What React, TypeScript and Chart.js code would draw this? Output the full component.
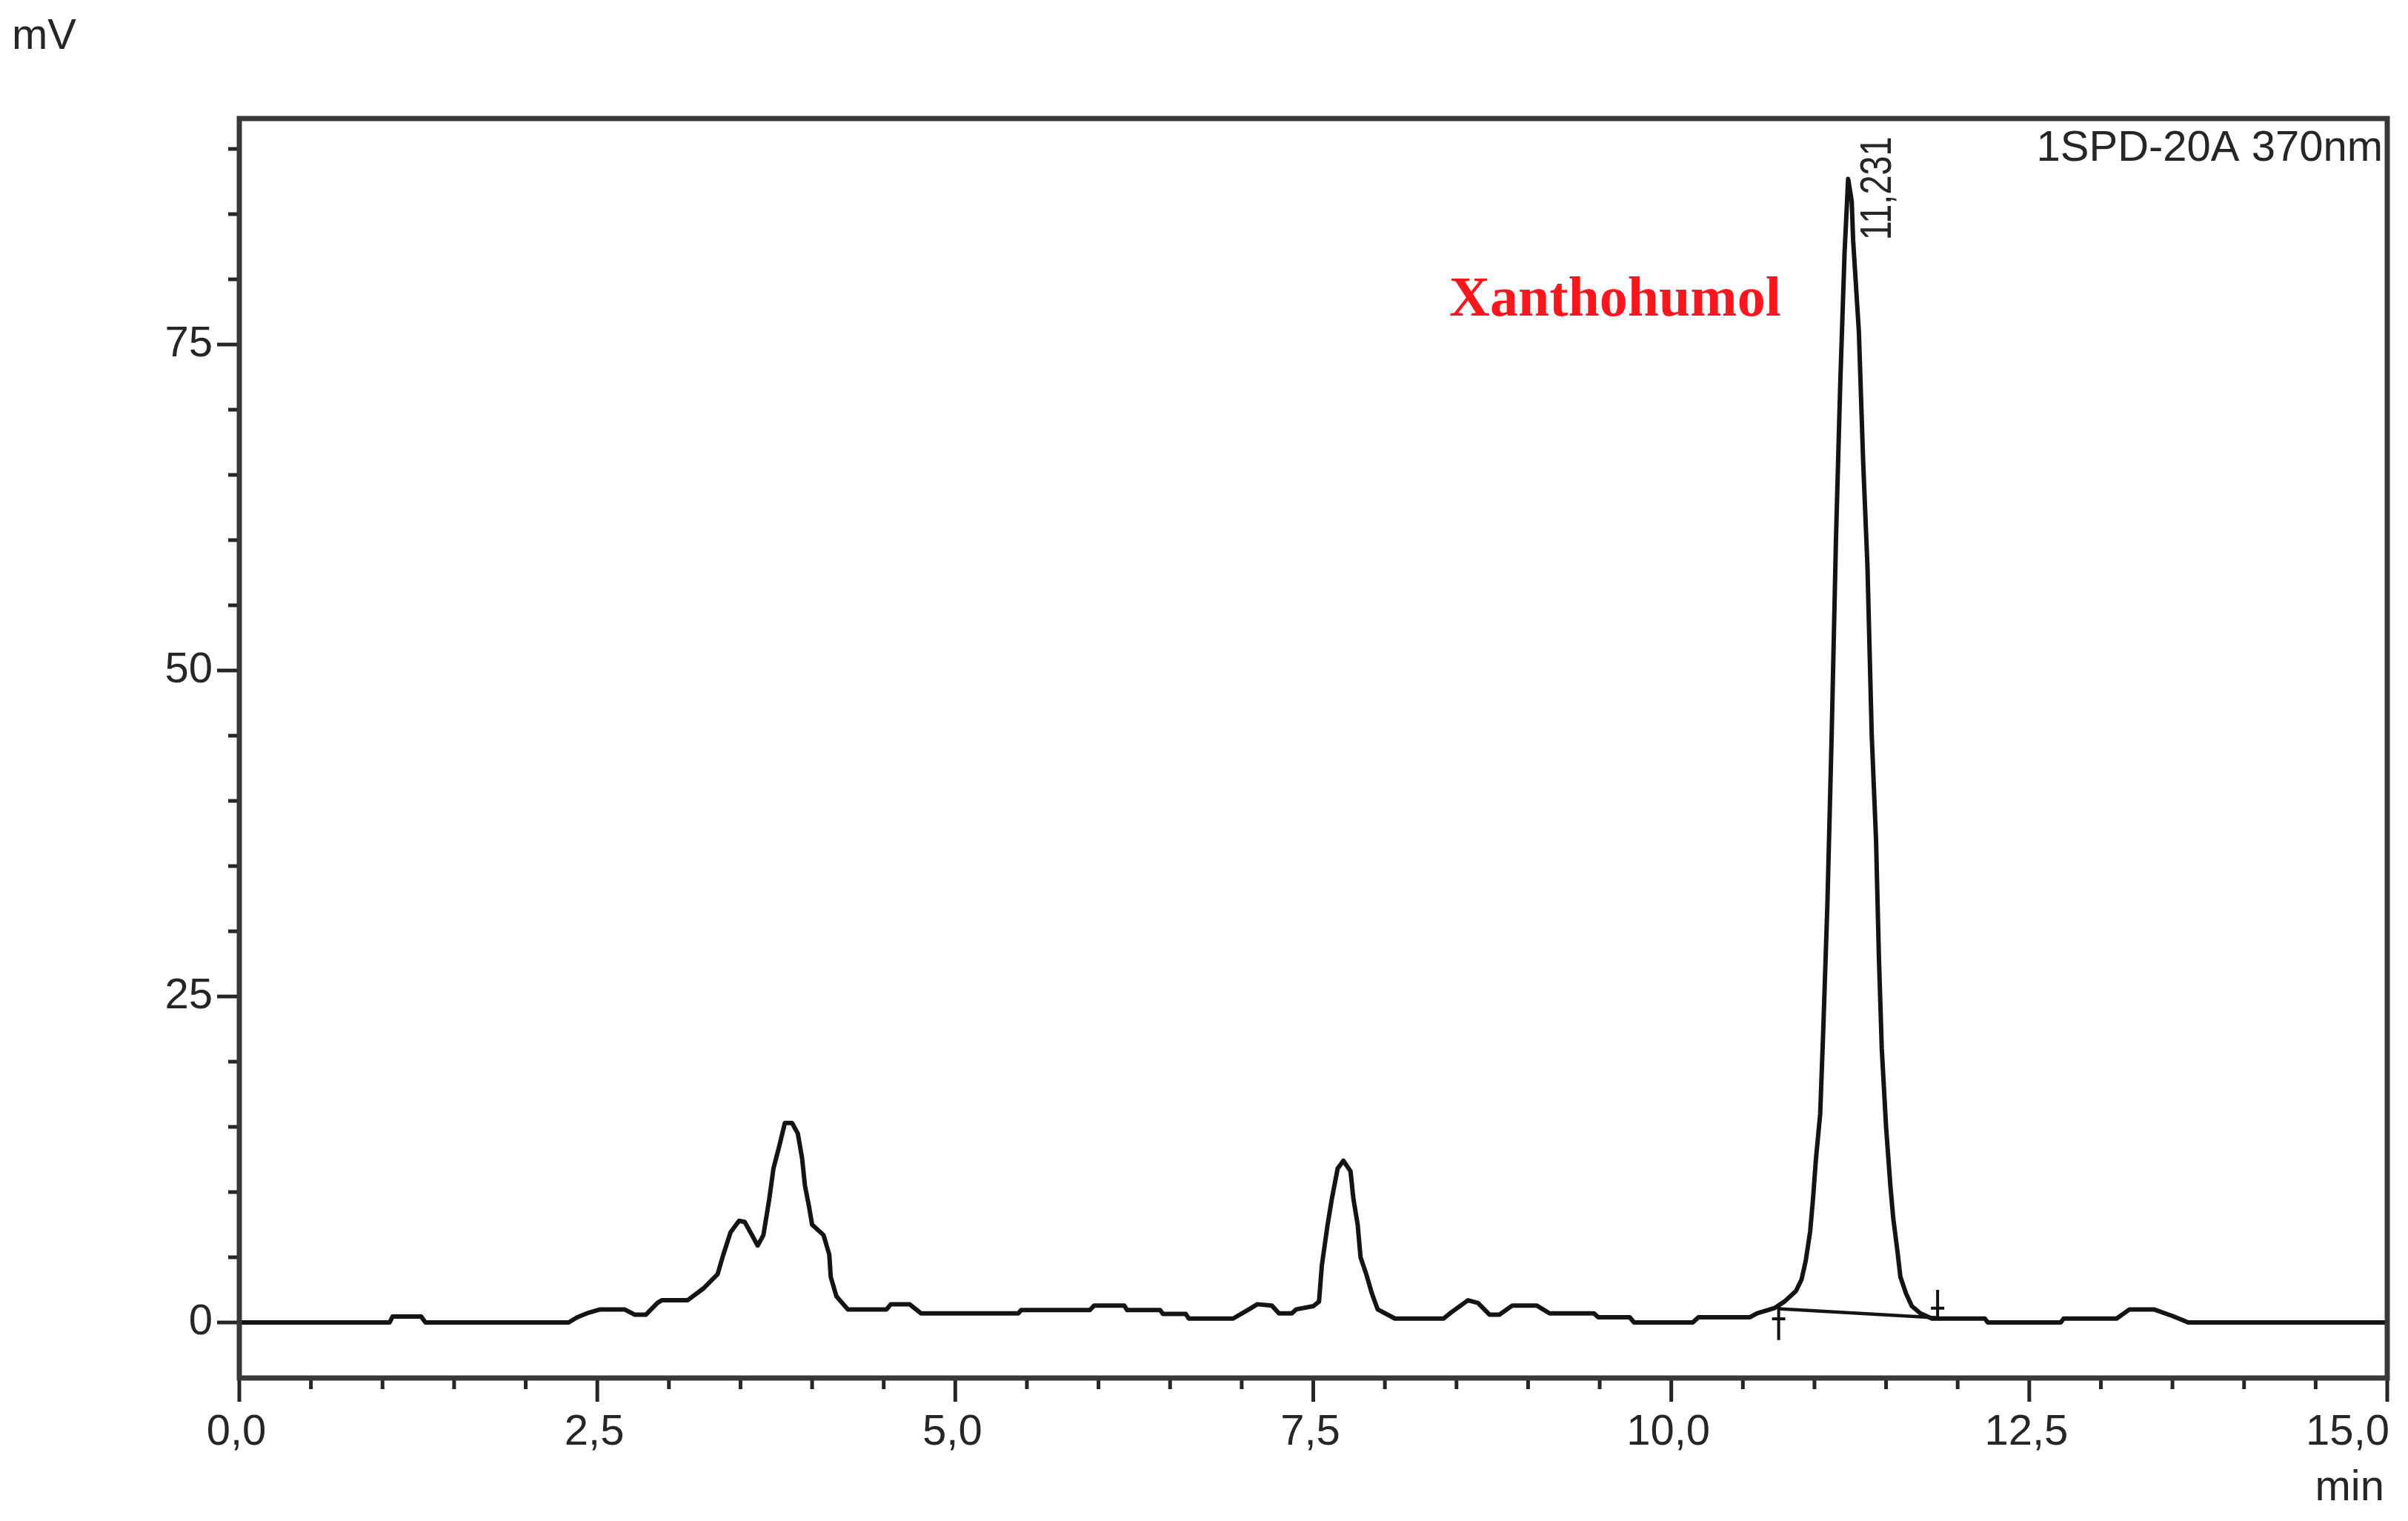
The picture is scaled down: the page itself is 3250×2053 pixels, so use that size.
import React, { useEffect, useRef } from 'react';
import { Chart, registerables } from 'chart.js';

Chart.register(...registerables);

// ---- Data ----
const retentionTimes = [
  0.0, 1.05, 1.07, 1.27, 1.3, 2.3, 2.36, 2.44, 2.52, 2.69, 2.76, 2.84, 2.92, 2.95, 3.13,
  3.24, 3.34, 3.38, 3.43, 3.49, 3.53, 3.58, 3.62, 3.66, 3.7, 3.73, 3.77, 3.81, 3.86, 3.9,
  3.93, 3.95, 3.98, 4.0, 4.08, 4.12, 4.13, 4.17, 4.25, 4.52, 4.55, 4.68, 4.76, 5.44, 5.46,
  5.94, 5.97, 6.18, 6.2, 6.43, 6.45, 6.61, 6.63, 6.94, 7.05, 7.11, 7.21, 7.26, 7.35, 7.38,
  7.5, 7.54, 7.56, 7.6, 7.63, 7.67, 7.71, 7.76, 7.78, 7.81, 7.83, 7.87, 7.91, 7.95, 8.07,
  8.41, 8.46, 8.58, 8.65, 8.73, 8.8, 8.89, 9.06, 9.15, 9.46, 9.49, 9.71, 9.74, 10.15, 10.19,
  10.55, 10.6, 10.72, 10.79, 10.87, 10.91, 10.94, 10.97, 10.99, 11.01, 11.04, 11.06, 11.09,
  11.12, 11.15, 11.18, 11.21, 11.235, 11.26, 11.27, 11.31, 11.34, 11.37, 11.4, 11.43, 11.45,
  11.47, 11.5, 11.53, 11.55, 11.58, 11.6, 11.64, 11.68, 11.74, 11.82, 12.19, 12.21, 12.72,
  12.74, 13.11, 13.2, 13.37, 13.5, 13.61, 15.0,
];
const signalMv = [
  0.0, 0.0, 0.45, 0.45, 0.0, 0.0, 0.4, 0.75, 1.0, 1.0, 0.6, 0.6, 1.5, 1.7, 1.7,
  2.6, 3.7, 5.2, 6.9, 7.8, 7.7, 6.7, 5.9, 6.7, 9.4, 11.8, 13.5, 15.3, 15.3, 14.5,
  12.6, 10.5, 8.8, 7.5, 6.7, 5.2, 3.5, 2.0, 1.0, 1.0, 1.4, 1.4, 0.7, 0.7, 0.95,
  0.95, 1.3, 1.3, 0.95, 0.95, 0.65, 0.65, 0.3, 0.3, 1.0, 1.4, 1.3, 0.7, 0.7, 1.0,
  1.25, 1.6, 4.4, 7.5, 9.5, 11.8, 12.4, 11.6, 9.5, 7.5, 5.0, 3.7, 2.2, 1.0, 0.3,
  0.3, 0.75, 1.7, 1.5, 0.6, 0.6, 1.3, 1.3, 0.7, 0.7, 0.4, 0.4, 0.0, 0.0, 0.4,
  0.4, 0.7, 1.1, 1.6, 2.4, 3.3, 4.8, 7.0, 9.5, 12.5, 16.0, 22.0, 32.0,
  45.0, 60.0, 72.0, 82.0, 87.7, 86.0, 83.0, 76.0, 66.0, 58.0, 45.0, 37.0, 28.0,
  21.0, 15.0, 10.5, 8.0, 5.4, 3.5, 2.2, 1.25, 0.7, 0.3, 0.3, 0.0, 0.0,
  0.3, 0.3, 1.0, 1.0, 0.5, 0.0, 0.0,
];
// integration baseline under the main peak (start / end markers)
const baselineTimes = [10.75, 11.86];
const baselineMv = [1.05, 0.35];

const xMajorTicks = [0, 2.5, 5, 7.5, 10, 12.5, 15];
const yMajorTicks = [0, 25, 50, 75];
const xMinorStep = 0.5;
const yMinorStep = 5;
const xRange = [0, 15];
const yRange = [-4.26, 92.33];

const peakTime = 11.231;
const peakLabel = '11,231';
const compoundName = 'Xanthohumol';
const detectorLabel = '1SPD-20A 370nm';
const yUnit = 'mV';
const xUnit = 'min';

const SANS = '"Liberation Sans", Arial, Helvetica, sans-serif';
const SERIF = '"Liberation Serif", "Times New Roman", serif';
const INK = '#262626';

const fmtComma = (v: number) => v.toFixed(1).replace('.', ',');

const decorPlugin = {
  id: 'decor',
  afterDraw(chart: any) {
    const ctx = chart.ctx as CanvasRenderingContext2D;
    const xs = chart.scales.x;
    const ys = chart.scales.y;
    const ca = chart.chartArea;
    ctx.save();

    const line = (x1: number, y1: number, x2: number, y2: number) => {
      ctx.beginPath();
      ctx.moveTo(x1, y1);
      ctx.lineTo(x2, y2);
      ctx.stroke();
    };

    // tick marks
    ctx.strokeStyle = INK;
    ctx.lineWidth = 5;
    ctx.lineCap = 'butt';
    const nX = Math.round((xRange[1] - xRange[0]) / xMinorStep);
    for (let i = 0; i <= nX; i++) {
      const v = xRange[0] + i * xMinorStep;
      const major = xMajorTicks.some((m) => Math.abs(m - v) < 1e-6);
      const px = xs.getPixelForValue(v);
      line(px, ca.bottom, px, ca.bottom + (major ? 32 : 15));
    }
    for (let v = 0; v <= yRange[1] + 1e-9; v += yMinorStep) {
      const major = yMajorTicks.some((m) => Math.abs(m - v) < 1e-6);
      const py = ys.getPixelForValue(v);
      line(ca.left, py, ca.left - (major ? 30 : 15), py);
    }

    // frame
    ctx.lineWidth = 7;
    ctx.strokeStyle = '#383838';
    ctx.strokeRect(ca.left, ca.top, ca.right - ca.left, ca.bottom - ca.top);

    // x tick labels
    ctx.fillStyle = INK;
    ctx.font = `58px ${SANS}`;
    ctx.textBaseline = 'alphabetic';
    xMajorTicks.forEach((v, i) => {
      const px = xs.getPixelForValue(v);
      if (i === xMajorTicks.length - 1) {
        ctx.textAlign = 'right';
        ctx.fillText(fmtComma(v), px + 3, ca.bottom + 90);
      } else {
        ctx.textAlign = 'center';
        ctx.fillText(fmtComma(v), px - 4, ca.bottom + 90);
      }
    });

    // axis unit labels
    ctx.font = `58px ${SANS}`;
    ctx.textAlign = 'left';
    ctx.fillText(yUnit, 16, 66);
    ctx.textAlign = 'right';
    ctx.fillText(xUnit, 3218, 2025);

    // detector label
    ctx.textAlign = 'right';
    ctx.fillText(detectorLabel, ca.right - 6, ca.top + 57);

    // peak retention time label (rotated, narrow)
    ctx.save();
    ctx.font = `60px ${SANS}`;
    ctx.translate(xs.getPixelForValue(peakTime) + 58, ys.getPixelForValue(83));
    ctx.rotate(-Math.PI / 2);
    ctx.scale(0.78, 1);
    ctx.textAlign = 'left';
    ctx.textBaseline = 'alphabetic';
    ctx.fillText(peakLabel, 0, 0);
    ctx.restore();

    // compound name
    ctx.font = `bold 76px ${SERIF}`;
    ctx.fillStyle = 'rgb(250, 22, 28)';
    ctx.textAlign = 'left';
    ctx.textBaseline = 'alphabetic';
    ctx.fillText(compoundName, xs.getPixelForValue(8.45), ys.getPixelForValue(77.2));

    // integration markers
    ctx.strokeStyle = '#111';
    ctx.lineWidth = 4;
    const sx = xs.getPixelForValue(baselineTimes[0]);
    const sTop = ys.getPixelForValue(1.3);
    const sBot = ys.getPixelForValue(-1.35);
    line(sx, sTop, sx, sBot);
    line(sx - 9, sTop + 18, sx + 9, sTop + 18);
    const ex = xs.getPixelForValue(baselineTimes[1]);
    const eTop = ys.getPixelForValue(2.5);
    const eBot = ys.getPixelForValue(0.3);
    line(ex, eTop, ex, eBot);
    line(ex - 9, eBot - 14, ex + 9, eBot - 14);

    ctx.restore();
  },
};

export default function App() {
  const canvasRef = useRef<HTMLCanvasElement | null>(null);

  useEffect(() => {
    if (!canvasRef.current) return;
    const trace = retentionTimes.map((t, i) => ({ x: t, y: signalMv[i] }));
    const baseline = baselineTimes.map((t, i) => ({ x: t, y: baselineMv[i] }));
    const chart = new Chart(canvasRef.current, {
      type: 'line',
      data: {
        datasets: [
          {
            data: trace,
            borderColor: '#141414',
            borderWidth: 6,
            pointRadius: 0,
            tension: 0,
            fill: false,
            borderJoinStyle: 'round',
          },
          {
            data: baseline,
            borderColor: '#141414',
            borderWidth: 4.5,
            pointRadius: 0,
            tension: 0,
            fill: false,
          },
        ],
      },
      options: {
        responsive: false,
        animation: false,
        devicePixelRatio: 1,
        layout: { padding: { left: 0, top: 160, right: 28, bottom: 0 } },
        plugins: {
          legend: { display: false },
          tooltip: { enabled: false },
          title: { display: false },
        },
        scales: {
          x: {
            type: 'linear',
            min: xRange[0],
            max: xRange[1],
            afterBuildTicks: (s: any) => {
              s.ticks = xMajorTicks.map((v) => ({ value: v }));
            },
            afterFit: (s: any) => {
              s.height = 193;
            },
            grid: { display: false, drawTicks: false },
            border: { display: false },
            ticks: { display: false },
          },
          y: {
            type: 'linear',
            min: yRange[0],
            max: yRange[1],
            afterBuildTicks: (s: any) => {
              s.ticks = yMajorTicks.map((v) => ({ value: v }));
            },
            afterFit: (s: any) => {
              s.width = 323;
            },
            grid: { display: false, drawTicks: false },
            border: { display: false },
            ticks: {
              padding: 36,
              color: INK,
              font: { family: SANS, size: 58 },
              callback: (v: any) => String(v),
            },
          },
        },
      },
      plugins: [decorPlugin],
    } as any);
    return () => chart.destroy();
  }, []);

  return (
    <div style={{ position: 'absolute', left: 0, top: 0, width: 3250, height: 2053, background: '#fff' }}>
      <canvas ref={canvasRef} width={3250} height={2053} style={{ display: 'block', width: 3250, height: 2053 }} />
    </div>
  );
}
